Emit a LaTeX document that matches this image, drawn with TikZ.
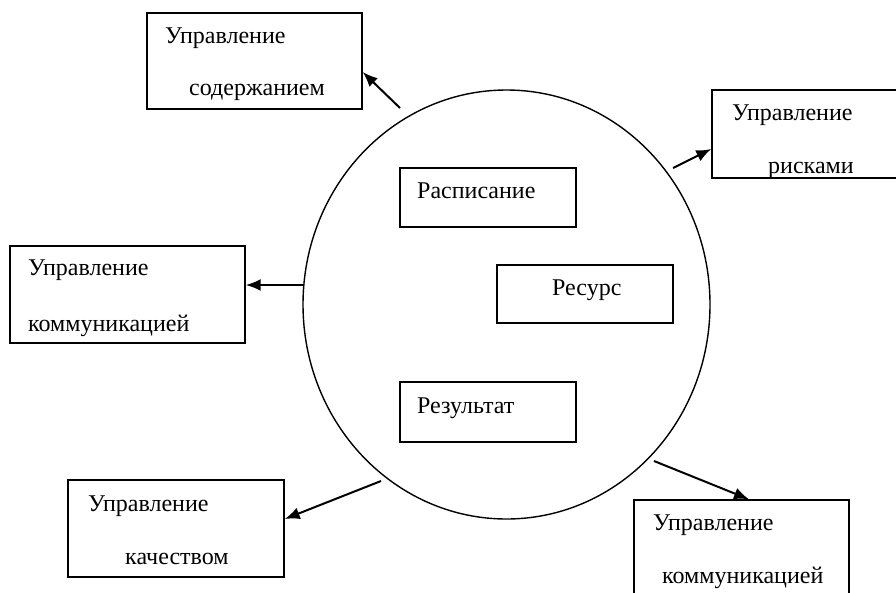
\documentclass[tikz,border=0pt]{standalone}
\usepackage{fontspec}
\setmainfont{Liberation Serif}
\newfontfamily\schrift{Liberation Serif}
\usepackage{tikz}
\usetikzlibrary{arrows.meta,calc,positioning,fit,shapes.geometric}

\begin{document}
\begin{tikzpicture}[x=1pt,y=-1pt,
  kasten/.style={draw,line width=1.4pt,inner sep=0pt},
  pfeil/.style={line width=2pt,-{Latex[length=15pt,width=12pt]}},
  txt/.style={anchor=base west,inner sep=0pt,font=\schrift\fontsize{24}{28}\selectfont}]
\useasboundingbox (0,0) rectangle (896,592);
%Kreis in der Mitte (leicht oval)
\node[draw,ellipse,line width=1.4pt,inner sep=0pt,minimum width=407pt,minimum height=429pt] (kreis) at (506.5,304.5) {};
%Kaesten: Name / links / oben / rechts / unten
\foreach \name/\xa/\ya/\xb/\yb in {b1/147/13/362/109, b2/712/90/905/178, b3/10/246/245/343,
  b4/68/480/284/577, b5/634/500/849/600, rasp/400/168/576/227, res/497/265/673/323, erg/400/382/576/442}{
\node[kasten,fit={(\xa,\ya) (\xb,\yb)}] (\name) {};
}
%Beschriftungen
\node[txt] (t1a) at (165,43) {Управление};
\node[txt] (t1b) at (189,95) {содержанием};
\node[txt] (t2a) at (732,120) {Управление};
\node[txt] (t2b) at (768,173) {рисками};
\node[txt] (t3a) at (28,275) {Управление};
\node[txt] (t3b) at (28,331) {коммуникацией};
\node[txt] (t4a) at (88,511) {Управление};
\node[txt] (t4b) at (125,564) {качеством};
\node[txt] (t5a) at (653,530) {Управление};
\node[txt] (t5b) at (662,583) {коммуникацией};
\node[txt] (traspis) at (417,198) {Расписание};
\node[txt] (tres) at (552,295) {Ресурс};
\node[txt] (terg) at (417,413) {Результат};
%Pfeile vom Kreis nach aussen
\coordinate (s1) at (400,108);
\coordinate (s2) at (673,168);
\coordinate (s3) at (303,285);
\coordinate (s4) at (381,481);
\coordinate (s5) at (654,461);
\draw[pfeil] (s1) -- ([yshift=-11pt]b1.east);
\draw[pfeil] (s2) -- ([yshift=-15pt]b2.west);
\draw[pfeil] (s3) -- ([yshift=9.5pt]b3.east);
\draw[pfeil] (s4) -- ([yshift=9.5pt]b4.east);
\draw[pfeil] (s5) -- ([xshift=7.5pt]b5.north);
\end{tikzpicture}
\end{document}
